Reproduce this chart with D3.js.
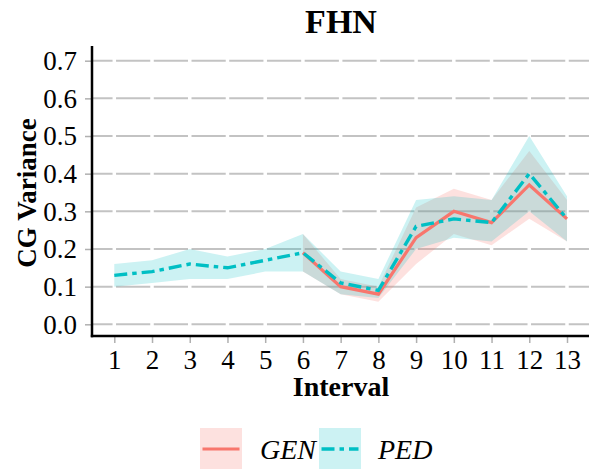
<!DOCTYPE html>
<html>
<head>
<meta charset="utf-8">
<script src="https://cdn.jsdelivr.net/npm/d3@7"></script>
<style>
  html, body { margin: 0; padding: 0; background: #ffffff; }
  svg { display: block; }
  text { font-family: "Liberation Serif", "Times New Roman", serif; fill: #000; }
</style>
</head>
<body>
<svg id="chart" width="589" height="469"></svg>
<script>
// Intervals on the x axis
const intervals = [1, 2, 3, 4, 5, 6, 7, 8, 9, 10, 11, 12, 13];

// PED: mean CG variance with lower / upper band
const pedMean  = [0.13, 0.14, 0.16, 0.15, 0.17, 0.19, 0.11, 0.09, 0.26, 0.28, 0.27, 0.40, 0.28];
const pedLower = [0.10, 0.11, 0.12, 0.12, 0.14, 0.14, 0.08, 0.07, 0.20, 0.23, 0.22, 0.30, 0.22];
const pedUpper = [0.16, 0.17, 0.20, 0.18, 0.20, 0.24, 0.14, 0.12, 0.33, 0.34, 0.33, 0.50, 0.34];

// GEN: only defined from interval 6 onwards
const genIntervals = [6, 7, 8, 9, 10, 11, 12, 13];
const genMean  = [0.19, 0.10, 0.08, 0.23, 0.30, 0.27, 0.37, 0.28];
const genLower = [0.14, 0.08, 0.06, 0.16, 0.24, 0.21, 0.28, 0.22];
const genUpper = [0.24, 0.12, 0.10, 0.31, 0.36, 0.33, 0.46, 0.33];

const yTicks = [0.0, 0.1, 0.2, 0.3, 0.4, 0.5, 0.6, 0.7];
const seriesNames = ["GEN", "PED"];
const seriesColors = ["#F8766D", "#00BFC4"];

const svg = d3.select("#chart");

// Panel geometry
const panel = { left: 92, right: 589, top: 46, bottom: 336 };

const x = d3.scalePoint()
  .domain(intervals)
  .range([114.3, 567]);

const y = d3.scaleLinear()
  .domain([0, 0.7])
  .range([324.3, 60.7]);

const gen = genIntervals.map((k, i) => ({ k, m: genMean[i], lo: genLower[i], hi: genUpper[i] }));
const ped = intervals.map((k, i) => ({ k, m: pedMean[i], lo: pedLower[i], hi: pedUpper[i] }));

// Horizontal grid lines
svg.append("g")
  .selectAll("line")
  .data(yTicks)
  .join("line")
  .attr("x1", panel.left)
  .attr("x2", panel.right)
  .attr("y1", d => y(d))
  .attr("y2", d => y(d))
  .attr("stroke", "#c3c3c3")
  .attr("stroke-width", 2);

// White vertical grid lines at each interval
svg.append("g")
  .selectAll("line")
  .data(intervals)
  .join("line")
  .attr("x1", d => x(d))
  .attr("x2", d => x(d))
  .attr("y1", panel.top)
  .attr("y2", panel.bottom)
  .attr("stroke", "#ffffff")
  .attr("stroke-width", 3.5);

// Confidence bands
const area = d3.area()
  .x(d => x(d.k))
  .y0(d => y(d.lo))
  .y1(d => y(d.hi));

svg.append("path")
  .datum(gen)
  .attr("d", area)
  .attr("fill", seriesColors[0])
  .attr("fill-opacity", 0.22);

svg.append("path")
  .datum(ped)
  .attr("d", area)
  .attr("fill", seriesColors[1])
  .attr("fill-opacity", 0.2);

// Mean lines
const line = d3.line()
  .x(d => x(d.k))
  .y(d => y(d.m));

svg.append("path")
  .datum(gen)
  .attr("d", line)
  .attr("fill", "none")
  .attr("stroke", seriesColors[0])
  .attr("stroke-width", 3.2);

const pedDash = "13,5,4.5,5";
svg.append("path")
  .datum(ped)
  .attr("d", line)
  .attr("fill", "none")
  .attr("stroke", seriesColors[1])
  .attr("stroke-width", 3.4)
  .attr("stroke-dasharray", pedDash);

// Y axis
const yAxis = svg.append("g")
  .attr("transform", `translate(${panel.left},0)`)
  .call(d3.axisLeft(y).tickValues(yTicks).tickFormat(d3.format(".1f")).tickSize(7).tickPadding(8));
yAxis.select(".domain").remove();
yAxis.selectAll(".tick line").attr("stroke", "#b0b0b0").attr("stroke-width", 1.5);
yAxis.selectAll(".tick text")
  .attr("font-family", "Liberation Serif")
  .attr("font-size", 27)
  .attr("dy", "0.33em")
  .attr("fill", "#000");

// X axis
const xAxis = svg.append("g")
  .attr("transform", `translate(0,${panel.bottom})`)
  .call(d3.axisBottom(x).tickSize(7).tickPadding(7));
xAxis.select(".domain").remove();
xAxis.selectAll(".tick line").attr("stroke", "#b0b0b0").attr("stroke-width", 1.5);
xAxis.selectAll(".tick text")
  .attr("font-family", "Liberation Serif")
  .attr("font-size", 27)
  .attr("dy", "0.71em")
  .attr("fill", "#000");

// Axis lines
svg.append("line")
  .attr("x1", panel.left).attr("x2", panel.left)
  .attr("y1", panel.top).attr("y2", panel.bottom + 1.2)
  .attr("stroke", "#000").attr("stroke-width", 2.5);
svg.append("line")
  .attr("x1", panel.left - 1.2).attr("x2", panel.right)
  .attr("y1", panel.bottom).attr("y2", panel.bottom)
  .attr("stroke", "#000").attr("stroke-width", 2.5);

// Title and axis titles
svg.append("text")
  .attr("x", 341).attr("y", 33)
  .attr("text-anchor", "middle")
  .attr("font-size", 34)
  .attr("font-weight", "bold")
  .text("FHN");

svg.append("text")
  .attr("x", 341).attr("y", 396)
  .attr("text-anchor", "middle")
  .attr("font-size", 28)
  .attr("font-weight", "bold")
  .text("Interval");

svg.append("text")
  .attr("transform", "translate(36,193) rotate(-90)")
  .attr("text-anchor", "middle")
  .attr("font-size", 27)
  .attr("font-weight", "bold")
  .text("CG Variance");

// Legend
const legendKeys = [
  { name: seriesNames[0], color: seriesColors[0], dash: null, x: 200, labelX: 260, op: 0.22, w: 3.2 },
  { name: seriesNames[1], color: seriesColors[1], dash: pedDash, x: 319, labelX: 378, op: 0.2, w: 3.4 }
];
const lg = svg.append("g");
legendKeys.forEach(k => {
  lg.append("rect")
    .attr("x", k.x).attr("y", 428)
    .attr("width", 42).attr("height", 41)
    .attr("fill", k.color).attr("fill-opacity", k.op);
  lg.append("line")
    .attr("x1", k.x + 2.5).attr("x2", k.x + 39.5)
    .attr("y1", 449).attr("y2", 449)
    .attr("stroke", k.color).attr("stroke-width", k.w)
    .attr("stroke-dasharray", k.dash);
  lg.append("text")
    .attr("x", k.labelX).attr("y", 459)
    .attr("font-size", 28)
    .attr("font-style", "italic")
    .text(k.name);
});
</script>
</body>
</html>
